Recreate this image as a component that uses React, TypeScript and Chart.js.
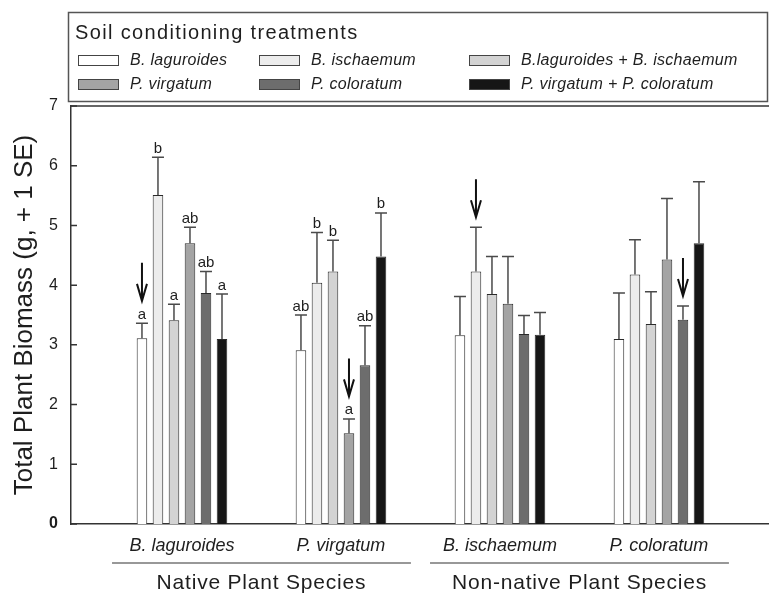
import React, { useEffect, useRef } from 'react';
import { Chart, registerables } from 'chart.js';

Chart.register(...registerables);

// ---------- data ----------
const categories = ['B. laguroides', 'P. virgatum', 'B. ischaemum', 'P. coloratum'];
const groupLabels = ['Native Plant Species', 'Non-native Plant Species'];
const groupCenters = [0.5, 2.5];
const seriesNames = [
  'B. laguroides',
  'B. ischaemum',
  'B.laguroides + B. ischaemum',
  'P. virgatum',
  'P. coloratum',
  'P. virgatum + P. coloratum',
];
const bLaguroides = [3.11, 2.91, 3.16, 3.1];
const bIschaemum = [5.51, 4.04, 4.23, 4.18];
const bLagBIsch = [3.41, 4.23, 3.85, 3.35];
const pVirgatum = [4.7, 1.52, 3.69, 4.43];
const pColoratum = [3.87, 2.66, 3.18, 3.42];
const pVirgPColor = [3.1, 4.48, 3.17, 4.7];

const seBLaguroides = [0.25, 0.59, 0.65, 0.77];
const seBIschaemum = [0.63, 0.84, 0.74, 0.58];
const seBLagBIsch = [0.27, 0.52, 0.63, 0.54];
const sePVirgatum = [0.27, 0.24, 0.79, 1.02];
const sePColoratum = [0.36, 0.66, 0.31, 0.23];
const sePVirgPColor = [0.75, 0.73, 0.37, 1.03];

const lettersBLaguroides = ['a', 'ab', '', ''];
const lettersBIschaemum = ['b', 'b', '', ''];
const lettersBLagBIsch = ['a', 'b', '', ''];
const lettersPVirgatum = ['ab', 'a', '', ''];
const lettersPColoratum = ['ab', 'ab', '', ''];
const lettersPVirgPColor = ['a', 'b', '', ''];

// series index marked by an arrow in each category
const arrowSeries = [0, 3, 1, 4];

const yTicks = [0, 1, 2, 3, 4, 5, 6, 7];

const seriesValues = [bLaguroides, bIschaemum, bLagBIsch, pVirgatum, pColoratum, pVirgPColor];
const seriesSE = [seBLaguroides, seBIschaemum, seBLagBIsch, sePVirgatum, sePColoratum, sePVirgPColor];
const seriesLetters = [
  lettersBLaguroides,
  lettersBIschaemum,
  lettersBLagBIsch,
  lettersPVirgatum,
  lettersPColoratum,
  lettersPVirgPColor,
];
const seriesColors = ['#ffffff', '#ececec', '#d3d3d3', '#a4a4a4', '#6d6d6d', '#161616'];

const FONT = "'Liberation Sans', Arial, sans-serif";
const TEXT = '#1e1e1e';

function setSpacing(ctx: any, px: number) {
  if ('letterSpacing' in ctx) ctx.letterSpacing = px + 'px';
}

const decorPlugin = {
  id: 'decor',
  afterDatasetsDraw(chart: any) {
    const { ctx, scales } = chart;
    const y = scales.y;
    ctx.save();
    chart.data.datasets.forEach((_ds: any, di: number) => {
      const meta = chart.getDatasetMeta(di);
      meta.data.forEach((bar: any, gi: number) => {
        const v = seriesValues[di][gi];
        const se = seriesSE[di][gi];
        const capY = y.getPixelForValue(v + se);
        const bx = bar.x;
        // error bar
        ctx.strokeStyle = '#4a4a4a';
        ctx.lineWidth = 1.5;
        ctx.beginPath();
        ctx.moveTo(bx, bar.y);
        ctx.lineTo(bx, capY);
        ctx.moveTo(bx - 6, capY);
        ctx.lineTo(bx + 6, capY);
        ctx.stroke();
        // significance letter
        const letter = seriesLetters[di][gi];
        let topY = capY;
        if (letter) {
          ctx.fillStyle = TEXT;
          ctx.font = `15px ${FONT}`;
          ctx.textAlign = 'center';
          ctx.textBaseline = 'alphabetic';
          const base = capY - 4.5;
          ctx.fillText(letter, bx, base);
          topY = base - 8;
        }
        // arrow
        if (arrowSeries[gi] === di) {
          const tip = topY - 10;
          ctx.strokeStyle = '#111';
          ctx.lineWidth = 2;
          ctx.beginPath();
          ctx.moveTo(bx, tip - 38);
          ctx.lineTo(bx, tip);
          ctx.moveTo(bx - 5, tip - 17);
          ctx.lineTo(bx, tip);
          ctx.lineTo(bx + 5, tip - 17);
          ctx.stroke();
        }
      });
    });
    ctx.restore();
  },
  afterDraw(chart: any) {
    const { ctx, chartArea, scales } = chart;
    const x = scales.x;
    const y = scales.y;
    ctx.save();
    // top frame line
    ctx.strokeStyle = '#333';
    ctx.lineWidth = 1.5;
    ctx.beginPath();
    ctx.moveTo(chartArea.left, chartArea.top);
    ctx.lineTo(chartArea.right, chartArea.top);
    ctx.stroke();
    // inward y ticks
    ctx.beginPath();
    yTicks.forEach((t) => {
      const py = y.getPixelForValue(t);
      ctx.moveTo(chartArea.left, py);
      ctx.lineTo(chartArea.left + 6, py);
    });
    ctx.stroke();

    // group underlines and labels
    ctx.lineWidth = 1.2;
    ctx.strokeStyle = '#333';
    groupCenters.forEach((c, i) => {
      const l = x.getPixelForValue(c - 0.94);
      const r = x.getPixelForValue(c + 0.94);
      ctx.beginPath();
      ctx.moveTo(l, 563);
      ctx.lineTo(r, 563);
      ctx.stroke();
      ctx.fillStyle = TEXT;
      ctx.font = `21px ${FONT}`;
      setSpacing(ctx, 0.8);
      ctx.textAlign = 'center';
      ctx.textBaseline = 'middle';
      ctx.fillText(groupLabels[i], x.getPixelForValue(c), 583);
    });

    // legend box
    ctx.strokeStyle = '#555';
    ctx.lineWidth = 1.5;
    ctx.strokeRect(68.5, 12.5, 699, 89);
    ctx.fillStyle = TEXT;
    ctx.font = `20px ${FONT}`;
    setSpacing(ctx, 1.35);
    ctx.textAlign = 'left';
    ctx.textBaseline = 'alphabetic';
    ctx.fillText('Soil conditioning treatments', 75, 39);

    const colX = [78, 259, 469];
    const rowY = [60.5, 84.5];
    ctx.font = `italic 16px ${FONT}`;
    setSpacing(ctx, 0.3);
    ctx.textBaseline = 'middle';
    chart.data.datasets.forEach((ds: any, di: number) => {
      const cx = colX[di % 3];
      const cy = rowY[Math.floor(di / 3)];
      ctx.fillStyle = ds.backgroundColor;
      ctx.fillRect(cx, cy - 5.5, 41, 11);
      ctx.strokeStyle = '#444';
      ctx.lineWidth = 1;
      ctx.strokeRect(cx + 0.5, cy - 5, 40, 10);
      ctx.fillStyle = TEXT;
      ctx.fillText(ds.label, cx + 52, cy + 0.5);
    });
    ctx.restore();
  },
};

export default function App() {
  const ref = useRef<HTMLCanvasElement | null>(null);

  useEffect(() => {
    if (!ref.current) return;
    const chart = new Chart(ref.current, {
      type: 'bar',
      data: {
        datasets: seriesNames.map((name, di) => ({
          label: name,
          data: seriesValues[di].map((v, i) => ({ x: i, y: v })),
          backgroundColor: seriesColors[di],
          borderColor: '#2a2a2a',
          borderWidth: 1,
          categoryPercentage: 0.604,
          barPercentage: 0.66,
        })),
      },
      options: {
        animation: false,
        responsive: true,
        maintainAspectRatio: false,
        layout: { padding: { top: 106, left: 0, right: 0, bottom: 0 } },
        plugins: {
          legend: { display: false },
          tooltip: { enabled: false },
        },
        scales: {
          x: {
            type: 'linear',
            offset: false,
            min: -0.698,
            max: 3.692,
            afterBuildTicks: (scale: any) => {
              scale.ticks = categories.map((_c, i) => ({ value: i }));
            },
            afterFit: (scale: any) => {
              scale.height = 69;
            },
            grid: { display: false, drawTicks: false, offset: false },
            border: { display: true, color: '#333', width: 1.5 },
            ticks: {
              autoSkip: false,
              maxRotation: 0,
              padding: 11,
              color: TEXT,
              font: { family: FONT, size: 18, style: 'italic' },
              callback: (v: any) => categories[Math.round(Number(v))] ?? '',
            },
          },
          y: {
            min: 0,
            max: 7,
            afterBuildTicks: (scale: any) => {
              scale.ticks = yTicks.map((t) => ({ value: t }));
            },
            afterFit: (scale: any) => {
              scale.width = 71;
            },
            grid: { display: false, drawTicks: false },
            border: { display: true, color: '#333', width: 1.5 },
            ticks: {
              padding: 13,
              color: TEXT,
              font: (c: any) => ({
                family: FONT,
                size: 16,
                weight: c.tick && c.tick.value === 0 ? 'bold' : 'normal',
              }),
            },
            title: {
              display: true,
              text: 'Total Plant Biomass (g, + 1 SE)',
              color: TEXT,
              font: { family: FONT, size: 26 },
              padding: { top: 9, bottom: 0 },
            },
          },
        },
      },
      plugins: [decorPlugin],
    });
    return () => chart.destroy();
  }, []);

  return (
    <div style={{ position: 'fixed', left: 0, top: 0, width: 769, height: 593, background: '#fff' }}>
      <canvas ref={ref} />
    </div>
  );
}
